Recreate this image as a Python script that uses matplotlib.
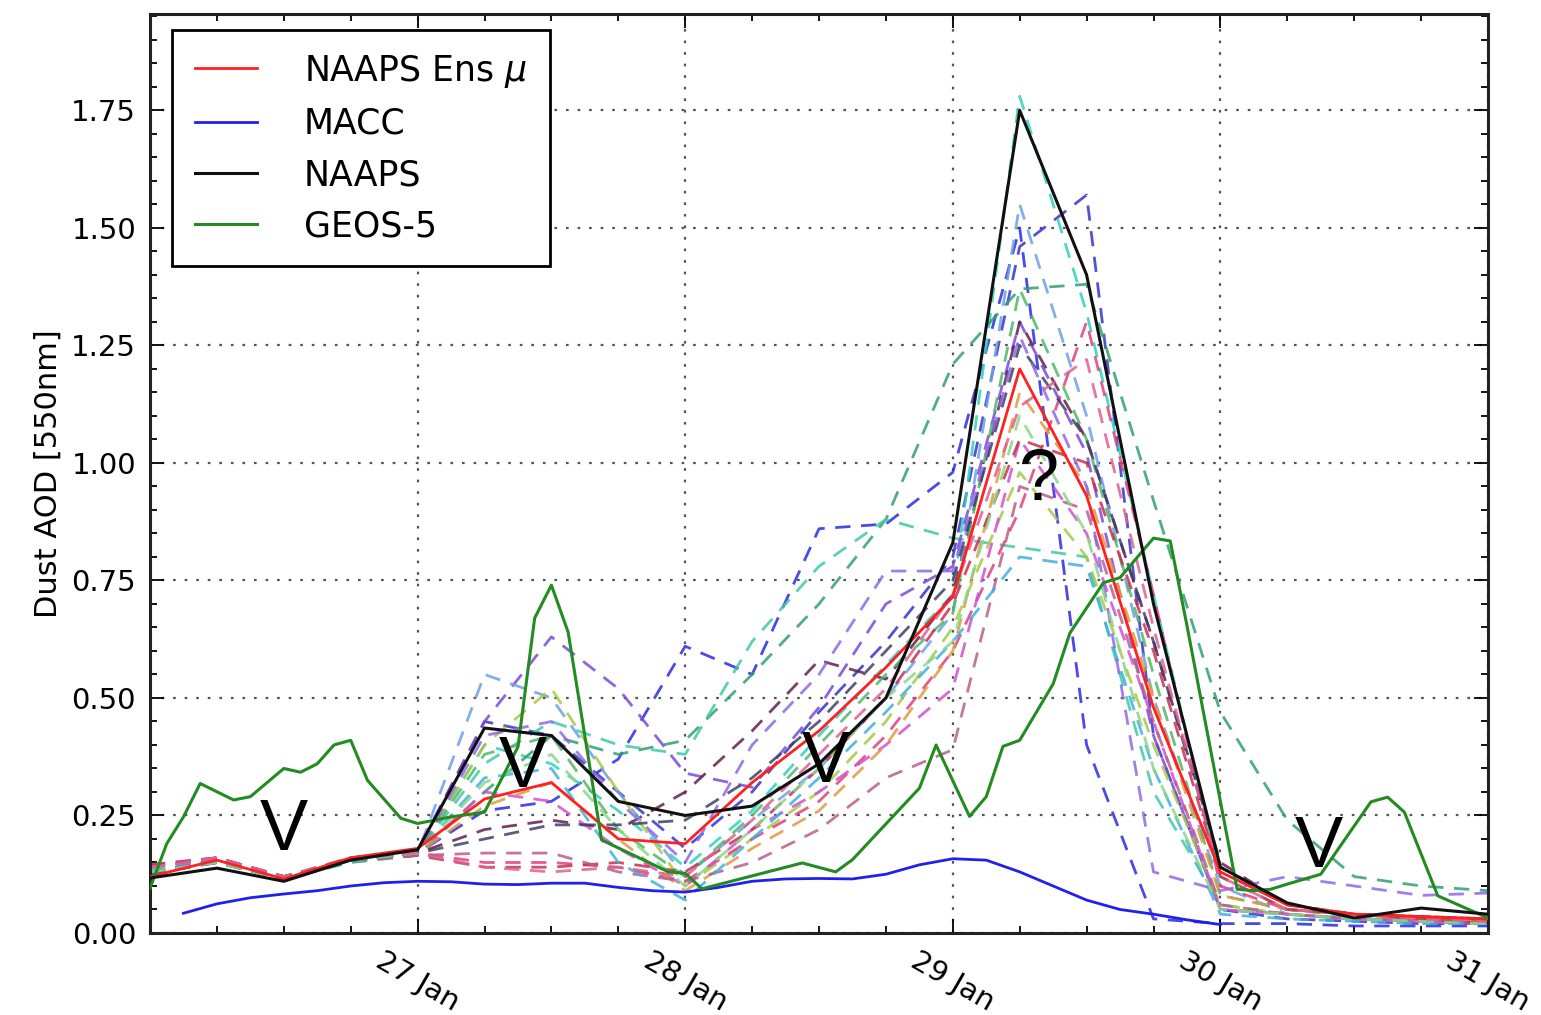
import datetime as dt
import matplotlib
matplotlib.use("Agg")
import matplotlib.pyplot as plt
import matplotlib.dates as mdates
from matplotlib.ticker import MultipleLocator, FormatStrFormatter

# ---------------- data ----------------
base = dt.datetime(2013, 1, 26, 0)
hours6 = list(range(0, 121, 6))
tick_days = [27, 28, 29, 30, 31]

naaps_mean = [0.12, 0.155, 0.115, 0.16, 0.18, 0.285, 0.32, 0.20, 0.19, 0.32, 0.43,
              0.565, 0.715, 1.20, 0.93, 0.48, 0.13, 0.06, 0.04, 0.035, 0.03]
naaps = [0.117, 0.138, 0.11, 0.155, 0.177, 0.436, 0.42, 0.28, 0.25, 0.27, 0.36,
         0.50, 0.83, 1.75, 1.40, 0.70, 0.14, 0.064, 0.032, 0.053, 0.04]

macc_hours = list(range(3, 97, 3))
macc = [0.042, 0.062, 0.075, 0.083, 0.09, 0.10, 0.107, 0.11, 0.109, 0.104, 0.103,
        0.106, 0.106, 0.097, 0.09, 0.087, 0.097, 0.11, 0.115, 0.116, 0.115, 0.125,
        0.145, 0.158, 0.155, 0.13, 0.10, 0.07, 0.05, 0.04, 0.028, 0.018]

geos_hours = [0, 1.5, 3, 4.5, 7.5, 9, 12, 13.5, 15, 16.5, 18, 19.5, 22.5, 24, 27, 30,
              33, 34.5, 36, 37.5, 40.5, 46.5, 48, 49.5, 58.5, 61.5, 63, 69, 70.5,
              73.5, 75, 76.5, 78, 81, 82.5, 85.5, 87, 90, 91.5, 93, 97.5, 99, 100.5,
              102, 105, 109.5, 111, 112.5, 115.5, 120]
geos = [0.095, 0.19, 0.247, 0.318, 0.283, 0.29, 0.35, 0.342, 0.36, 0.40, 0.41, 0.325,
        0.244, 0.233, 0.247, 0.257, 0.396, 0.67, 0.74, 0.64, 0.198, 0.13, 0.127, 0.094,
        0.149, 0.13, 0.156, 0.308, 0.40, 0.248, 0.29, 0.397, 0.41, 0.53, 0.638, 0.745,
        0.756, 0.84, 0.834, 0.654, 0.093, 0.09, 0.093, 0.104, 0.125, 0.279, 0.289,
        0.257, 0.079, 0.032]

member_colors = ['#2a2ae0', '#3535c8', '#30d0c0', '#30a070', '#40c8a8', '#7a4ad8',
                 '#602050', '#6fa0e8', '#a8c848', '#50b868', '#e0407a', '#d050d0',
                 '#e09a40', '#c83050', '#404068', '#b86088', '#40b0e0', '#9068e8',
                 '#88d888', '#e06090']
members = [
    [0.13, 0.15, 0.12, 0.155, 0.17, 0.26, 0.28, 0.37, 0.61, 0.55, 0.86, 0.87, 0.98, 1.50, 0.40, 0.03, 0.02, 0.02, 0.015, 0.015, 0.015],
    [0.125, 0.15, 0.115, 0.16, 0.175, 0.45, 0.42, 0.30, 0.18, 0.30, 0.47, 0.62, 0.80, 1.46, 1.57, 0.42, 0.05, 0.03, 0.025, 0.02, 0.02],
    [0.13, 0.155, 0.115, 0.155, 0.17, 0.40, 0.36, 0.26, 0.14, 0.26, 0.42, 0.57, 0.72, 1.78, 1.32, 0.72, 0.12, 0.05, 0.04, 0.03, 0.03],
    [0.13, 0.15, 0.115, 0.15, 0.165, 0.30, 0.42, 0.38, 0.41, 0.55, 0.70, 0.88, 1.21, 1.37, 1.38, 0.92, 0.47, 0.24, 0.12, 0.10, 0.09],
    [0.135, 0.16, 0.12, 0.155, 0.17, 0.36, 0.45, 0.40, 0.38, 0.62, 0.78, 0.88, 0.84, 0.82, 0.80, 0.30, 0.06, 0.04, 0.03, 0.03, 0.025],
    [0.13, 0.155, 0.115, 0.16, 0.175, 0.45, 0.63, 0.52, 0.34, 0.31, 0.48, 0.70, 0.78, 1.30, 1.02, 0.42, 0.05, 0.04, 0.03, 0.025, 0.02],
    [0.13, 0.15, 0.115, 0.155, 0.17, 0.22, 0.24, 0.22, 0.30, 0.43, 0.58, 0.54, 0.72, 1.30, 1.05, 0.62, 0.15, 0.06, 0.04, 0.035, 0.03],
    [0.13, 0.155, 0.12, 0.155, 0.17, 0.55, 0.50, 0.30, 0.12, 0.24, 0.35, 0.50, 0.68, 1.55, 1.10, 0.50, 0.10, 0.04, 0.03, 0.03, 0.025],
    [0.13, 0.15, 0.115, 0.155, 0.17, 0.40, 0.52, 0.30, 0.10, 0.20, 0.30, 0.45, 0.65, 0.98, 0.80, 0.40, 0.06, 0.04, 0.03, 0.025, 0.02],
    [0.13, 0.15, 0.115, 0.155, 0.17, 0.38, 0.42, 0.22, 0.12, 0.25, 0.40, 0.55, 0.68, 1.37, 1.05, 0.55, 0.08, 0.05, 0.035, 0.03, 0.025],
    [0.145, 0.16, 0.12, 0.16, 0.17, 0.15, 0.15, 0.14, 0.11, 0.20, 0.28, 0.42, 0.60, 0.90, 1.30, 0.72, 0.10, 0.05, 0.04, 0.03, 0.025],
    [0.14, 0.16, 0.12, 0.155, 0.17, 0.30, 0.28, 0.18, 0.10, 0.22, 0.30, 0.40, 0.52, 1.05, 0.85, 0.45, 0.05, 0.04, 0.03, 0.025, 0.02],
    [0.13, 0.15, 0.115, 0.155, 0.17, 0.27, 0.32, 0.20, 0.09, 0.18, 0.26, 0.40, 0.60, 1.15, 0.95, 0.50, 0.08, 0.05, 0.04, 0.03, 0.03],
    [0.145, 0.16, 0.12, 0.155, 0.165, 0.14, 0.14, 0.15, 0.13, 0.22, 0.35, 0.50, 0.70, 1.05, 1.00, 0.60, 0.12, 0.05, 0.04, 0.03, 0.02],
    [0.13, 0.15, 0.115, 0.155, 0.17, 0.20, 0.23, 0.23, 0.24, 0.33, 0.45, 0.60, 0.75, 1.25, 1.05, 0.62, 0.14, 0.06, 0.04, 0.035, 0.03],
    [0.14, 0.16, 0.12, 0.155, 0.165, 0.17, 0.17, 0.13, 0.11, 0.15, 0.22, 0.33, 0.39, 0.95, 0.90, 0.45, 0.06, 0.04, 0.03, 0.025, 0.02],
    [0.13, 0.15, 0.115, 0.155, 0.17, 0.33, 0.35, 0.15, 0.07, 0.20, 0.33, 0.47, 0.62, 0.80, 0.78, 0.35, 0.04, 0.03, 0.025, 0.02, 0.02],
    [0.13, 0.155, 0.115, 0.155, 0.17, 0.42, 0.45, 0.28, 0.15, 0.40, 0.55, 0.77, 0.77, 1.27, 0.95, 0.13, 0.09, 0.12, 0.10, 0.08, 0.085],
    [0.13, 0.15, 0.115, 0.155, 0.17, 0.32, 0.38, 0.22, 0.10, 0.22, 0.35, 0.50, 0.62, 1.10, 0.85, 0.35, 0.05, 0.04, 0.03, 0.025, 0.02],
    [0.14, 0.16, 0.12, 0.16, 0.17, 0.14, 0.13, 0.14, 0.12, 0.24, 0.38, 0.52, 0.72, 1.12, 1.22, 0.65, 0.12, 0.05, 0.04, 0.03, 0.025],
]

annot_labels = ['V', 'V', 'V', 'V', '?']
annot_hours = [12, 33.4, 60.6, 104.8, 79.7]
annot_values = [0.215, 0.35, 0.36, 0.18, 0.96]

legend_labels = [r'NAAPS Ens $\mu$', 'MACC', 'NAAPS', 'GEOS-5']
ylabel = 'Dust AOD [550nm]'


def to_dates(hrs):
    return [base + dt.timedelta(hours=h) for h in hrs]


# ---------------- figure ----------------
fig = plt.figure(figsize=(15.41, 10.15), dpi=100)
ax = fig.add_axes([150 / 1541, 1 - 933 / 1015, 1338 / 1541, 919 / 1015])

t6 = to_dates(hours6)
for col, vals in zip(member_colors, members):
    ax.plot(t6, vals, color=col, lw=2.0, alpha=0.85, linestyle=(0, (5.5, 3.8)), zorder=2)

l_mean, = ax.plot(t6, naaps_mean, color='#ff2020', lw=2.0, zorder=4)
l_macc, = ax.plot(to_dates(macc_hours), macc, color='#2020ee', lw=2.0, zorder=4)
l_naaps, = ax.plot(t6, naaps, color='#111111', lw=2.2, zorder=5)
l_geos, = ax.plot(to_dates(geos_hours), geos, color='#228b22', lw=2.2, zorder=4)

for lab, h, v in zip(annot_labels, annot_hours, annot_values):
    ax.text(base + dt.timedelta(hours=h), v, lab, fontsize=52, color='black',
            family='Liberation Sans', ha='center', va='center', zorder=6)

ax.set_xlim(base, base + dt.timedelta(hours=120))
ax.set_ylim(0, 1.955)

ax.set_xticks([dt.datetime(2013, 1, d) for d in tick_days])
ax.xaxis.set_minor_locator(mdates.HourLocator(byhour=[0, 6, 12, 18]))
ax.xaxis.set_major_formatter(mdates.DateFormatter('%d %b'))
ax.yaxis.set_major_locator(MultipleLocator(0.25))
ax.yaxis.set_minor_locator(MultipleLocator(0.05))
ax.yaxis.set_major_formatter(FormatStrFormatter('%.2f'))

ax.tick_params(which='both', direction='in', top=True, right=True, width=1.3)
ax.tick_params(which='major', length=10, labelsize=21, pad=10)
ax.tick_params(which='minor', length=5)
for lbl in ax.get_xticklabels():
    lbl.set_rotation(-30)
    lbl.set_ha('center')
    lbl.set_va('top')

for sp in ax.spines.values():
    sp.set_linewidth(2.2)
    sp.set_color('#222222')

ax.grid(True, which='major', color='#555555', linestyle=(0, (1.2, 4.0)), lw=1.6)
ax.set_axisbelow(True)

ax.set_ylabel(ylabel, family='DejaVu Sans', fontsize=22, labelpad=6)

leg = ax.legend([l_mean, l_macc, l_naaps, l_geos], legend_labels, loc='upper left',
                bbox_to_anchor=(0.0164, 0.9826), borderaxespad=0, fontsize=25,
                handlelength=1.8, handletextpad=1.35, labelspacing=0.5, borderpad=0.65,
                fancybox=False, framealpha=1)
leg.get_frame().set_edgecolor('black')
leg.get_frame().set_linewidth(2.0)

fig.savefig('out.png', dpi=100)
